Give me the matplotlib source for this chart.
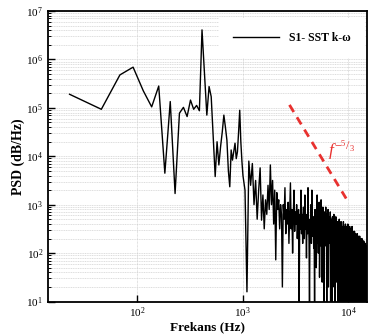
import numpy as np
import matplotlib
matplotlib.use("Agg")
import matplotlib.pyplot as plt
from matplotlib.ticker import LogLocator, NullLocator, NullFormatter

plt.rcParams["font.family"] = "serif"
plt.rcParams["font.serif"] = ["Liberation Serif", "DejaVu Serif"]
plt.rcParams["mathtext.fontset"] = "custom"
plt.rcParams["mathtext.rm"] = "Liberation Serif"
plt.rcParams["mathtext.it"] = "Liberation Serif:italic"
plt.rcParams["mathtext.bf"] = "Liberation Serif:bold"

# frequency resolution of the spectrum (Hz)
df = 22.9

# log10(PSD), one value per bin up to ~1 kHz
psd_low_exp = [
    5.28, 4.97, 5.68, 5.84, 5.35, 5.02, 5.45, 3.65, 5.13, 3.23,
    4.89, 5.01, 4.82, 5.16, 4.97, 5.05, 4.94, 6.61, 5.70, 4.85,
    5.44, 5.23, 4.40, 3.58, 4.30, 3.82, 4.20, 4.50, 4.85, 4.60,
    4.33, 3.70, 3.37, 4.13, 3.92, 4.10, 4.27, 3.95, 4.09, 4.50,
    4.95, 4.30, 3.90, 3.60,
]

# log10(PSD) above ~1 kHz, every second bin
psd_high_exp = [
    3.30, 1.20, 3.90, 3.40, 3.85, 3.00, 3.50, 2.70, 3.30, 3.76,
    2.68, 3.20, 2.50, 3.10, 2.80, 3.40, 2.90, 3.82, 3.00, 3.50,
    2.60, 3.30, 1.86, 3.25, 2.90, 3.10, 2.50, 3.00, 2.80, 1.30,
    3.00, 2.70, 3.35, 2.40, 2.90, 2.60, 3.05, 2.20, 2.80, 3.45,
    2.50, 2.90, 2.00, 2.75, 3.30, 2.45, 2.85, 2.60, 3.00, 2.30,
    2.70, 2.90, 1.00, 2.80, 2.50, 3.30, 2.40, 2.80, 2.20, 2.95,
    2.60, 2.30, 3.20, 2.50, 2.70, 1.90, 2.80, 2.40, 3.35, 2.55,
    2.30, 0.90, 2.70, 2.40, 3.00, 2.20, 3.30, 2.60, 2.35, 2.75,
    2.10, 2.50, 0.90, 2.90, 2.30, 2.65, 1.70, 2.55, 3.20, 2.20,
    2.60, 2.00, 2.45, 3.05, 1.50, 2.40, 2.70, 2.15, 3.10, 2.30,
    2.80, 1.40, 2.60, 2.95, 2.30, 2.75, 0.90, 2.85, 2.50, 2.70,
    2.15, 2.95, 2.45, 2.65, 0.85, 2.80, 2.35, 2.60, 2.90, 1.30,
    2.55, 2.75, 2.20, 2.65, 2.40, 2.85, 0.90, 2.50, 2.70, 1.60,
    2.60, 0.90, 2.75, 2.45, 2.65, 1.75, 2.55, 2.80, 1.30, 2.45,
    2.70, 0.85, 2.55, 2.35, 2.75, 1.40, 2.50, 2.65, 1.85, 2.40,
    2.60, 0.95, 2.65, 2.30, 2.50, 1.20, 2.55, 2.70, 0.85, 2.45,
    2.25, 2.60, 1.40, 2.40, 2.65, 0.95, 2.35, 2.55, 1.50, 2.50,
    2.30, 0.85, 2.55, 2.35, 2.65, 1.30, 2.25, 2.50, 0.90, 2.40,
    2.55, 1.50, 2.30, 2.60, 0.80, 2.35, 2.45, 1.30, 2.55, 2.20,
    2.40, 0.90, 2.50, 2.25, 2.60, 1.20, 2.30, 2.45, 0.85, 2.35,
    2.50, 1.40, 2.20, 2.55, 0.95, 2.30, 2.40, 1.55, 2.50, 0.80,
    2.25, 2.45, 1.25, 2.35, 2.15, 2.55, 0.90, 2.25, 2.40, 1.35,
    2.20, 2.45, 0.80, 2.30, 2.10, 2.40, 1.10, 2.25, 2.45, 1.40,
    2.15, 2.35, 0.85, 2.25, 2.05, 2.40, 1.20, 2.20, 2.35, 0.80,
    2.15, 2.30, 1.30, 2.10, 2.40, 0.90, 2.20, 2.25, 1.40, 2.35,
    0.80, 2.10, 2.30, 1.15, 2.15, 2.25, 0.85, 2.05, 2.35, 1.35,
    2.20, 0.80, 2.10, 2.25, 1.20, 2.15, 2.30, 0.90, 2.05, 2.20,
    1.30, 2.10, 2.30, 0.80, 2.05, 2.20, 1.10, 2.10, 2.25, 0.85,
    2.00, 2.15, 1.25, 2.05, 2.25, 0.80, 2.00, 2.15, 1.05, 2.10,
    2.20, 0.85, 1.95, 2.10, 1.20, 2.05, 2.20, 0.80, 2.00, 2.10,
    1.15, 2.05, 2.15, 0.85, 1.95, 2.10, 1.25, 2.05,
]

# -5/3 reference line end points
ref_freq = [2780, 10000]
ref_psd = [1.15e5, 1.15e3]

freq_low = df * np.arange(1, len(psd_low_exp) + 1)
freq_high = freq_low[-1] + 2 * df * np.arange(1, len(psd_high_exp) + 1)
freq = np.concatenate([freq_low, freq_high])
psd = 10.0 ** np.array(psd_low_exp + psd_high_exp)

fig = plt.figure(figsize=(3.68, 3.35), dpi=100)
ax = fig.add_axes([48 / 368, 33.5 / 335, 319 / 368, 290.5 / 335])

ax.plot(freq, psd, color="black", lw=1.0, label="S1- SST k-\u03c9")
ax.plot(ref_freq, ref_psd, color="#e8312f", lw=2, ls=(0, (3, 2.2)))
ax.text(6500, 1.0e4, r"$f^{-{}^{5}/_{3}}$", color="#e8312f", fontsize=12.5)

ax.set_xscale("log")
ax.set_yscale("log")
ax.set_xlim(14.3, 15100)
ax.set_ylim(10, 1e7)

ax.set_xticks([1e2, 1e3, 1e4])
ax.set_yticks([1e1, 1e2, 1e3, 1e4, 1e5, 1e6, 1e7])
ax.xaxis.set_minor_locator(NullLocator())
ax.yaxis.set_minor_locator(LogLocator(base=10, subs=np.arange(2, 10), numticks=20))
ax.yaxis.set_minor_formatter(NullFormatter())
ax.set_ylim(10, 1e7)

ax.grid(True, which="major", axis="x", color="#c4c4c4", lw=0.5, ls=(0, (1, 1)))
ax.grid(True, which="both", axis="y", color="#cfcfcf", lw=0.5, ls=(0, (1.5, 1)))
ax.set_axisbelow(True)

ax.tick_params(which="both", direction="in", top=False, right=False, labelsize=8)
ax.tick_params(which="major", length=5, width=1)
ax.tick_params(which="minor", length=2.5, width=0.7)
ax.tick_params(axis="x", pad=2.5)
for s in ax.spines.values():
    s.set_linewidth(1.3)

ax.set_xlabel("Frekans (Hz)", fontsize=9.5, fontweight="bold", labelpad=1)
ax.set_ylabel("PSD (dB/Hz)", fontsize=10, fontweight="bold", labelpad=1)

leg = ax.legend(loc="upper right", bbox_to_anchor=(1.0, 0.985), frameon=True,
                fancybox=False, edgecolor="none", facecolor="white", framealpha=1,
                handlelength=3.9, borderpad=1.2, borderaxespad=0.2,
                prop={"weight": "bold", "size": 8.5})

fig.savefig("out.png", dpi=100)
